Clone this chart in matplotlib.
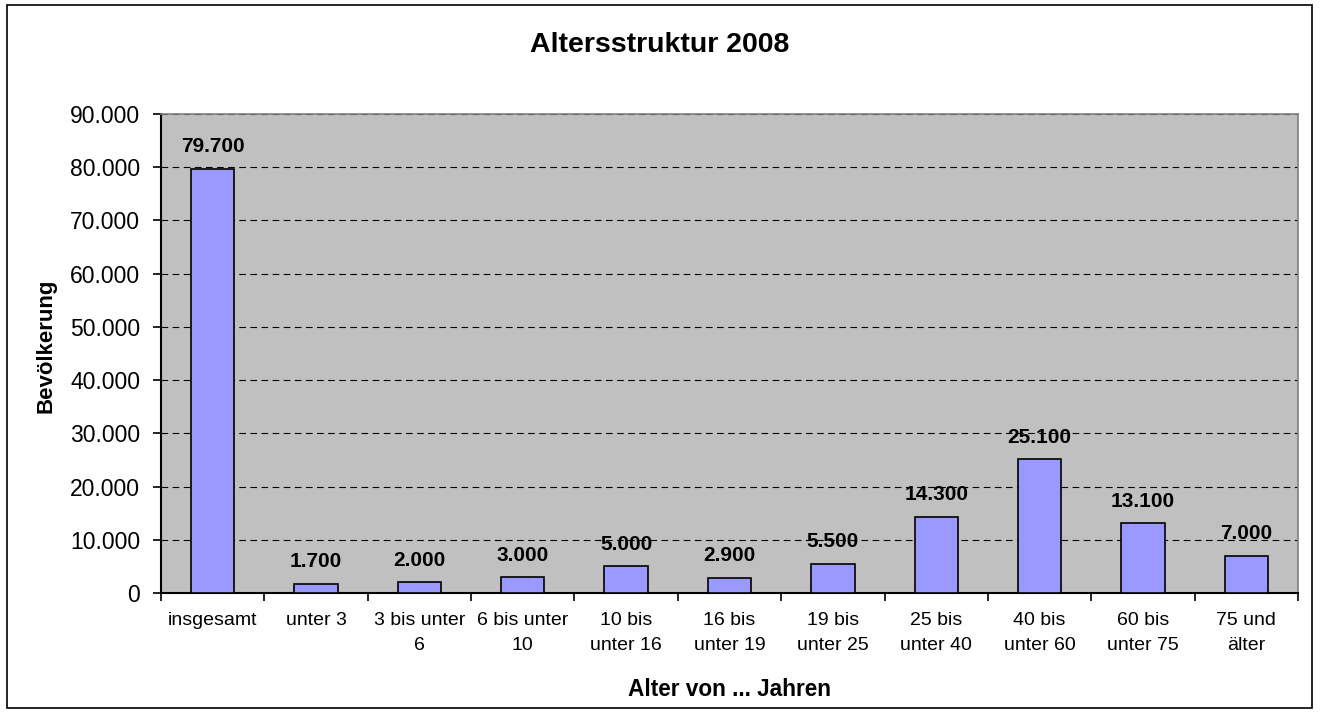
import matplotlib
matplotlib.use("Agg")
from matplotlib import pyplot as plt
from matplotlib.patches import Rectangle
from matplotlib.ticker import FuncFormatter, FixedLocator

# Data
Categories = ["insgesamt", "unter 3", "3 bis unter\n6", "6 bis unter\n10", "10 bis\nunter 16",
              "16 bis\nunter 19", "19 bis\nunter 25", "25 bis\nunter 40", "40 bis\nunter 60",
              "60 bis\nunter 75", "75 und\nälter"]
Population = [79700, 1700, 2000, 3000, 5000, 2900, 5500, 14300, 25100, 13100, 7000]


def dotted(v, pos=None):
    return f"{v:,.0f}".replace(",", ".")


plt.rcParams['font.family'] = ['Liberation Sans', 'DejaVu Sans']

fig = plt.figure(figsize=(13.2, 7.15), dpi=100)
fig.patches.append(Rectangle((7 / 1320, 1 - 708 / 715), 1305 / 1320, 703 / 715,
                             transform=fig.transFigure, fill=False, edgecolor="black", linewidth=1.2))

ax = fig.add_axes([161 / 1320, 1 - 593 / 715, 1137 / 1320, 479 / 715])
ax.set_facecolor("#C0C0C0")

x = range(len(Categories))
bars = ax.bar(x, Population, width=0.42, color="#9999FF", edgecolor="black", linewidth=1.2, zorder=3)

for i, v in enumerate(Population):
    ax.annotate(dotted(v), (i, v), xytext=(0, 9), textcoords="offset points",
                ha="center", va="bottom", fontsize=15, fontweight="bold", zorder=4)

ax.set_xlim(-0.5, len(Categories) - 0.5)
ax.set_ylim(0, 90000)
ax.set_yticks(range(0, 90001, 10000))
ax.yaxis.set_major_formatter(FuncFormatter(dotted))
ax.grid(axis="y", color="black", linestyle=(0, (6, 4)), linewidth=0.8, zorder=1)

ax.set_xticks(list(x))
ax.set_xticklabels(Categories, fontsize=14, linespacing=1.6)
ax.xaxis.set_minor_locator(FixedLocator([i - 0.5 for i in range(len(Categories) + 1)]))
ax.tick_params(axis="x", which="major", length=0, pad=14)
ax.tick_params(axis="x", which="minor", length=6, width=1.2, direction="out")
ax.tick_params(axis="y", length=6, width=1.2, direction="out", labelsize=16.5, pad=9)

for s in ["top", "right"]:
    ax.spines[s].set_color("#808080")
    ax.spines[s].set_linewidth(1.2)
for s in ["left", "bottom"]:
    ax.spines[s].set_linewidth(1.5)

ax.set_xlabel("Alter von ... Jahren", fontsize=16.3, fontweight="bold", labelpad=17)
ax.set_ylabel("Bevölkerung", fontsize=16, fontweight="bold")
ax.yaxis.set_label_coords(-104 / 1137, (593 - 346) / 479)
fig.text(0.5, 1 - 45 / 715, "Altersstruktur 2008", ha="center", va="center",
         fontsize=20.5, fontweight="bold")

plt.savefig("out.png", dpi=100)
